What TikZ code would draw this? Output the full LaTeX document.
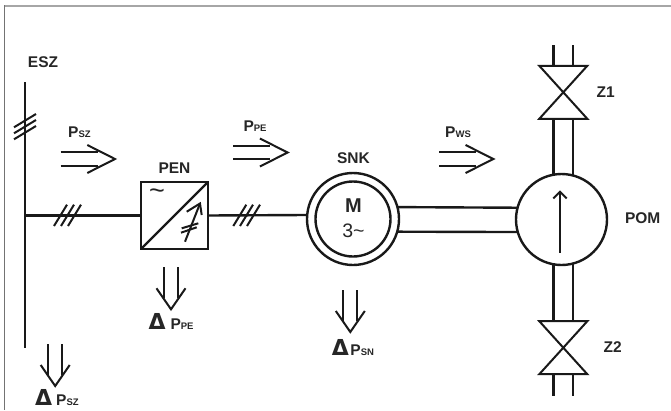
\documentclass[tikz,border=0pt]{standalone}
\usepackage{fontspec}
\setmainfont{Liberation Sans}
\newfontfamily\deltafont{DejaVu Sans}
\usetikzlibrary{positioning}
\newcommand{\subtxt}[1]{{\fontsize{9.5}{9.5}\selectfont #1}}
\newcommand{\deltatxt}{{\deltafont\fontsize{22}{22}\selectfont Δ}}
\tikzset{
  wire/.style={draw=black!90,line width=2.4pt},
  tick/.style={draw=black!90,line width=2pt},
  lbl/.style={font=\fontsize{15.5}{15.5}\selectfont\bfseries,text=black!85,inner sep=0pt},
  plbl/.style={lbl,anchor=base west},
  ring/.style={circle,draw=black!90,line width=2.4pt,inner sep=0pt,outer sep=0pt},
  valve/.style={minimum width=48pt,minimum height=53pt,inner sep=0pt,outer sep=0pt},
  flowright/.pic={
    \draw[tick] (0,-6.7) -- (37,-6.7);
    \draw[tick] (0,6.7) -- (37,6.7);
    \draw[tick] (26.6,-14) -- (54.3,0) -- (26.6,14);
  },
  flowdown/.pic={
    \draw[tick] (-7,0) -- (-7,31);
    \draw[tick] (7,0) -- (7,31);
    \draw[tick] (-14.5,21) -- (0,42) -- (14.5,21);
  },
}
\begin{document}
\begin{tikzpicture}[x=1pt,y=-1pt]
  \useasboundingbox (0,0) rectangle (671,410);
  % frame
  \draw[black!35,line width=2pt] (4,5.5) -- (671,5.5);
  \draw[black!55,line width=1.5pt] (4.5,5) -- (4.5,410);

  % bus
  \coordinate (bustop) at (25,82);
  \coordinate (busend) at (25,348);
  \coordinate (busjoin) at (25,215.5);
  \draw[wire] (bustop) -- (busend);
  \foreach \ty in {127.3,133.3,139.3} \draw[tick] (14,\ty) -- ++(22,-13.3);
  \node[lbl] (esz) at (43,62) {ESZ};

  % converter
  \node[draw=black!90,line width=2.4pt,minimum width=67pt,minimum height=67pt,inner sep=0pt,outer sep=0pt]
        (pen) at (174.5,215.5) {};
  \node[lbl] (penlbl) at (174.5,168) {PEN};
  \node[lbl,font=\fontsize{27}{27}\selectfont] (pentilde) at (157,194) {\textasciitilde};
  \draw[wire] (pen.south west) -- (pen.north east);
  \draw[tick] (185,241.7) -- (200,203.5);
  \draw[tick] (186.7,211.7) -- (200,203.5) -- (201.7,215);
  \draw[tick] (181.7,228.3) -- (198.3,223.3);
  \draw[tick] (181,232.7) -- (196.7,227.3);
  \draw[wire] (busjoin) -- (pen.west);
  \foreach \tx in {54,61,68} \draw[tick] (\tx,226) -- ++(13,-21.3);

  % motor
  \node[ring,minimum size=92pt] (snk) at (353,219) {};
  \node[ring,minimum size=75pt] (snkin) at (353,219) {};
  \node[lbl] (snklbl) at (353.5,158) {SNK};
  \node[lbl,font=\fontsize{20}{20}\selectfont\bfseries] (mlbl) at (353.5,206) {M};
  \node[lbl,font=\fontsize{19.5}{19.5}\selectfont] (phlbl) at (353.5,231) {3\textasciitilde};
  \draw[wire] (pen.east) -- (snk.175);
  \foreach \tx in {233.3,240,247} \draw[tick] (\tx,226) -- ++(13,-21.3);

  % pump
  \node[ring,minimum size=91pt] (pom) at (561.5,219.5) {};
  \node[lbl] (pomlbl) at (642.7,218) {POM};
  \draw[wire] (snk.15) -- (pom.165);
  \draw[wire] (snk.-16) -- (pom.196);
  \draw[tick] (560,252.7) -- (560,192);
  \draw[tick] (553.3,198.4) -- (560,191.7) -- (566.7,198.4);

  % valves
  \node[valve] (z1) at (563.3,92.3) {};
  \node[valve] (z2) at (563.3,347.7) {};
  \node[lbl] (z1lbl) at (605.7,92.3) {Z1};
  \node[lbl] (z2lbl) at (612.7,347) {Z2};
  \draw[tick,line join=miter] (z1.north west) -- (z1.north east) -- (z1.south west) -- (z1.south east) -- cycle;
  \draw[tick,line join=miter] (z2.north west) -- (z2.north east) -- (z2.south west) -- (z2.south east) -- cycle;
  \draw[wire] (pom.100) -- (pom.100 |- z1.south);
  \draw[wire] (pom.75.5) -- (pom.75.5 |- z1.south);
  \draw[wire] (pom.-100) -- (pom.-100 |- z2.north);
  \draw[wire] (pom.-75.5) -- (pom.-75.5 |- z2.north);
  \draw[wire] (pom.100 |- z1.north) -- ++(0,-20.7);
  \draw[wire] (pom.75.5 |- z1.north) -- ++(0,-20.7);
  \draw[wire] (pom.-100 |- z2.south) -- ++(0,21.4);
  \draw[wire] (pom.-75.5 |- z2.south) -- ++(0,21.4);

  % power flow
  \pic at (60.7,159) {flowright};
  \pic at (233.3,152.5) {flowright};
  \pic at (439,159) {flowright};
  \node[plbl] (psz) at (68,137.5) {P\subtxt{SZ}};
  \node[plbl] (ppe) at (243.3,131) {P\subtxt{PE}};
  \node[plbl] (pws) at (445,137) {P\subtxt{WS}};

  % losses
  \pic at (55.2,344) {flowdown};
  \pic at (171,267.3) {flowdown};
  \pic at (350.3,290) {flowdown};
  \node[plbl] (lsz) at (35,405.5) {\deltatxt\hspace{4pt}P\subtxt{SZ}};
  \node[plbl] (lpe) at (148.3,329) {\deltatxt\hspace{5pt}P\subtxt{PE}};
  \node[plbl] (lsn) at (331.7,355.5) {\deltatxt\hspace{1.5pt}P\subtxt{SN}};
\end{tikzpicture}
\end{document}
